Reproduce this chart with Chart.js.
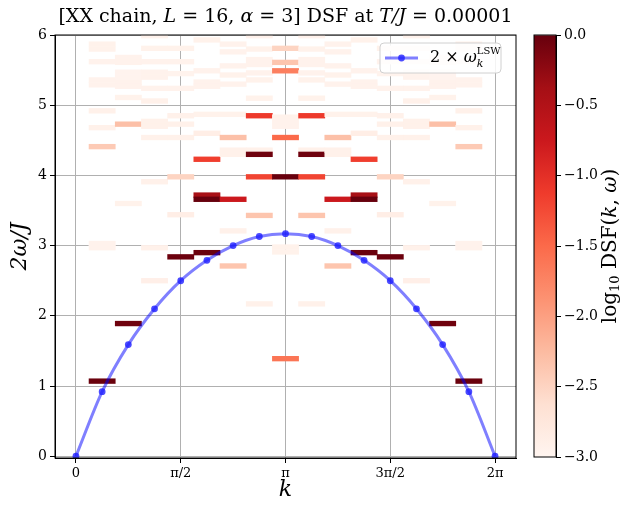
<!DOCTYPE html>
<html>
<head>
<meta charset="utf-8">
<script src="https://cdn.jsdelivr.net/npm/chart.js@4.4.0/dist/chart.umd.min.js"></script>
<style>
  html, body { margin: 0; padding: 0; background: #fff; }
  #wrap { position: relative; width: 629px; height: 514px; }
  #dsf { position: absolute; left: 0; top: 0; }
  #cbar { position: absolute; left: 520px; top: 0; }
</style>
</head>
<body>
<div id="wrap">
  <canvas id="dsf" width="520" height="514"></canvas>
  <canvas id="cbar" width="109" height="514"></canvas>
</div>
<script>
(function() {
    'use strict';

    var L = 16;
    var kIndex = [0, 1, 2, 3, 4, 5, 6, 7, 8, 9, 10, 11, 12, 13, 14, 15, 16];
    var lswOmega = [0, 0.92, 1.59, 2.10, 2.50, 2.79, 3.00, 3.13, 3.17, 3.13, 3.00, 2.79, 2.50, 2.10, 1.59, 0.92, 0];

    var xTickVals = [0, Math.PI / 2, Math.PI, 3 * Math.PI / 2, 2 * Math.PI];
    var xTickLabels = ['0', 'π/2', 'π', '3π/2', '2π'];
    var yTickVals = [0, 1, 2, 3, 4, 5, 6];
    var cbarTicks = [-3, -2.5, -2, -1.5, -1, -0.5, 0];

    // DSF cells, one row per k column n = 1..15: 2w/J bin centres and log10 DSF
    var cellOmega = [
        [5.87, 5.80, 5.62, 5.36, 5.29, 4.92, 4.68, 4.41, 3.03, 2.97, 1.07],
        [5.68, 5.61, 5.47, 5.40, 5.33, 5.27, 5.11, 4.73, 3.60, 1.89],
        [5.99, 5.81, 5.62, 5.47, 5.40, 5.24, 5.06, 4.77, 4.70, 4.54, 3.91, 2.97, 2.50],
        [5.81, 5.62, 5.45, 5.24, 4.85, 4.73, 4.54, 3.98, 3.44, 2.84],
        [5.93, 5.49, 5.33, 5.27, 4.87, 4.60, 4.23, 3.72, 3.66, 2.90],
        [5.87, 5.76, 5.56, 5.43, 5.30, 4.87, 4.54, 4.36, 4.30, 3.66, 3.21, 2.71],
        [5.99, 5.80, 5.65, 5.58, 5.46, 5.36, 5.10, 4.85, 4.36, 4.30, 3.98, 3.43, 2.17],
        [5.81, 5.61, 5.49, 4.83, 4.77, 4.70, 4.54, 3.98, 2.98, 2.91, 1.39],
        [5.99, 5.80, 5.65, 5.58, 5.46, 5.36, 5.10, 4.85, 4.36, 4.30, 3.98, 3.43, 2.17],
        [5.87, 5.76, 5.56, 5.43, 5.30, 4.87, 4.54, 4.36, 4.30, 3.66, 3.21, 2.71],
        [5.93, 5.49, 5.33, 5.27, 4.87, 4.60, 4.23, 3.72, 3.66, 2.90],
        [5.81, 5.62, 5.45, 5.24, 4.85, 4.73, 4.54, 3.98, 3.44, 2.84],
        [5.99, 5.81, 5.62, 5.47, 5.40, 5.24, 5.06, 4.77, 4.70, 4.54, 3.91, 2.97, 2.50],
        [5.68, 5.61, 5.47, 5.40, 5.33, 5.27, 5.11, 4.73, 3.60, 1.89],
        [5.87, 5.80, 5.62, 5.36, 5.29, 4.92, 4.68, 4.41, 3.03, 2.97, 1.07]
    ];
    var cellLog = [
        [-2.94, -2.94, -2.95, -2.95, -2.95, -2.92, -2.92, -2.4, -2.95, -2.95, -0.02],
        [-2.95, -2.95, -2.97, -2.97, -2.95, -2.95, -2.94, -2.3, -2.94, -0.05],
        [-2.96, -2.94, -2.95, -2.95, -2.95, -2.95, -2.92, -2.93, -2.93, -2.92, -2.92, -2.92, -2.9],
        [-2.94, -2.95, -2.96, -2.95, -2.92, -2.93, -2.92, -2.5, -2.88, -0.03],
        [-2.94, -2.95, -2.95, -2.95, -2.94, -2.88, -1.15, -0.4, 0.0, -0.02],
        [-2.95, -2.95, -2.95, -2.94, -2.95, -2.94, -2.3, -2.92, -2.92, -0.75, -2.92, -2.35],
        [-2.95, -2.94, -2.95, -2.95, -2.95, -2.94, -2.94, -1.1, -2.92, -0.05, -1.2, -2.35, -2.92],
        [-2.5, -2.35, -1.7, -2.94, -2.95, -2.95, -1.5, 0.0, -2.94, -2.94, -1.6],
        [-2.95, -2.94, -2.95, -2.95, -2.95, -2.94, -2.94, -1.1, -2.92, -0.05, -1.2, -2.35, -2.92],
        [-2.95, -2.95, -2.95, -2.94, -2.95, -2.94, -2.3, -2.92, -2.92, -0.75, -2.92, -2.35],
        [-2.94, -2.95, -2.95, -2.95, -2.94, -2.88, -1.15, -0.4, 0.0, -0.02],
        [-2.94, -2.95, -2.96, -2.95, -2.92, -2.93, -2.92, -2.5, -2.88, -0.03],
        [-2.96, -2.94, -2.95, -2.95, -2.95, -2.95, -2.92, -2.93, -2.93, -2.92, -2.92, -2.92, -2.9],
        [-2.95, -2.95, -2.97, -2.97, -2.95, -2.95, -2.94, -2.3, -2.94, -0.05],
        [-2.94, -2.94, -2.95, -2.95, -2.95, -2.92, -2.92, -2.4, -2.95, -2.95, -0.02]
    ];

    var cbarMin = -3, cbarMax = 0;
    // matplotlib "Reds"
    var REDS = [[255,245,240],[254,224,210],[252,187,161],[252,146,114],[251,106,74],
                [239,59,44],[203,24,29],[165,15,21],[103,0,13]];

    var SERIF = '"DejaVu Serif", "Liberation Serif", serif';

    function redsColor(v) {
        var t = (v - cbarMin) / (cbarMax - cbarMin);
        t = Math.max(0, Math.min(1, t));
        var pos = t * (REDS.length - 1);
        var i = Math.min(Math.floor(pos), REDS.length - 2);
        var f = pos - i;
        var c = [0, 1, 2].map(function(j) {
            return Math.round(REDS[i][j] + (REDS[i + 1][j] - REDS[i][j]) * f);
        });
        return 'rgb(' + c.join(',') + ')';
    }

    var dk = 2 * Math.PI / L;
    var cells = [], cellColors = [];
    cellOmega.forEach(function(col, c) {
        var k = (c + 1) * dk;
        col.forEach(function(w, j) {
            cells.push({x: [k - dk / 2, k + dk / 2], y: w});
            cellColors.push(redsColor(cellLog[c][j]));
        });
    });
    var lswPoints = kIndex.map(function(n, i) {
        return {x: n * dk, y: lswOmega[i]};
    });

    // draw a run of [text, italic, size, dy] pieces
    function drawPieces(ctx, pieces, x, y) {
        pieces.forEach(function(p) {
            ctx.font = (p[1] ? 'italic ' : '') + p[2] + 'px ' + SERIF;
            ctx.fillText(p[0], x, y + (p[3] || 0));
            x += ctx.measureText(p[0]).width;
        });
        return x;
    }
    function piecesWidth(ctx, pieces) {
        var w = 0;
        pieces.forEach(function(p) {
            ctx.font = (p[1] ? 'italic ' : '') + p[2] + 'px ' + SERIF;
            w += ctx.measureText(p[0]).width;
        });
        return w;
    }

    var decorPlugin = {
        id: 'decor',
        afterDraw: function(chart) {
            var ctx = chart.ctx, a = chart.chartArea;
            ctx.save();
            ctx.strokeStyle = '#000';
            ctx.lineWidth = 1;
            ctx.strokeRect(a.left, a.top, a.right - a.left, a.bottom - a.top);

            // title
            var title = [['[XX chain, ', false, 19], ['L', true, 19], [' = 16, ', false, 19],
                         ['α', true, 19], [' = 3] DSF at ', false, 19], ['T/J', true, 19],
                         [' = 0.00001', false, 19]];
            ctx.fillStyle = '#000';
            ctx.textBaseline = 'middle';
            var tw = piecesWidth(ctx, title);
            drawPieces(ctx, title, (a.left + a.right) / 2 - tw / 2, 17);

            // legend
            var bx = a.right - 136, by = a.top + 8, bw = 121, bh = 30;
            ctx.fillStyle = 'rgba(255,255,255,0.85)';
            ctx.strokeStyle = '#d0d0d0';
            ctx.beginPath();
            ctx.roundRect(bx, by, bw, bh, 4);
            ctx.fill();
            ctx.stroke();
            var ly = by + bh / 2;
            ctx.strokeStyle = 'rgba(0,0,255,0.5)';
            ctx.lineWidth = 3;
            ctx.beginPath();
            ctx.moveTo(bx + 5, ly);
            ctx.lineTo(bx + 38, ly);
            ctx.stroke();
            ctx.fillStyle = 'rgba(30,30,255,0.8)';
            ctx.beginPath();
            ctx.arc(bx + 21.5, ly, 3.4, 0, 2 * Math.PI);
            ctx.fill();
            ctx.fillStyle = '#000';
            var tx = drawPieces(ctx, [['2 × ', false, 16], ['ω', true, 16]], bx + 50, ly);
            drawPieces(ctx, [['k', true, 11]], tx, ly + 6);
            drawPieces(ctx, [['LSW', false, 10]], tx, ly - 7);
            ctx.restore();
        }
    };

    new Chart(document.getElementById('dsf'), {
        type: 'bar',
        data: {
            datasets: [
                {
                    type: 'line',
                    label: '2 × ω_k^LSW',
                    data: lswPoints,
                    borderColor: 'rgba(0,0,255,0.5)',
                    borderWidth: 3,
                    pointRadius: 3.4,
                    pointBackgroundColor: 'rgba(30,30,255,0.8)',
                    pointBorderWidth: 0,
                    tension: 0.4,
                    cubicInterpolationMode: 'monotone',
                    order: 0
                },
                {
                    type: 'bar',
                    label: 'DSF',
                    data: cells,
                    indexAxis: 'y',
                    backgroundColor: cellColors,
                    barThickness: 4.7,
                    grouped: false,
                    borderWidth: 0,
                    order: 1
                }
            ]
        },
        options: {
            responsive: false,
            animation: false,
            layout: {padding: {top: 35, right: 2, left: 0, bottom: 0}},
            plugins: {legend: {display: false}, tooltip: {enabled: false}},
            scales: {
                x: {
                    type: 'linear',
                    min: -0.1 * Math.PI,
                    max: 2.1 * Math.PI,
                    offset: false,
                    afterBuildTicks: function(scale) {
                        scale.ticks = xTickVals.map(function(v) { return {value: v}; });
                    },
                    afterFit: function(scale) { scale.height = 56; },
                    ticks: {
                        autoSkip: false, maxRotation: 0, padding: 3, color: '#000',
                        font: {family: SERIF, size: 13},
                        callback: function(v, i) { return xTickLabels[i]; }
                    },
                    grid: {color: '#b0b0b0', lineWidth: 1, tickColor: '#000', tickLength: 5, offset: false},
                    border: {color: '#000'},
                    title: {display: true, text: 'k', color: '#000',
                            font: {family: SERIF, size: 22, style: 'italic'}, padding: {top: 0, bottom: 11}}
                },
                y: {
                    type: 'linear',
                    min: -0.025,
                    max: 6,
                    offset: false,
                    afterBuildTicks: function(scale) {
                        scale.ticks = yTickVals.map(function(v) { return {value: v}; });
                    },
                    afterFit: function(scale) { scale.width = 55; },
                    ticks: {padding: 3, color: '#000', font: {family: SERIF, size: 14}},
                    grid: {color: '#b0b0b0', lineWidth: 1, tickColor: '#000', tickLength: 5, offset: false},
                    border: {color: '#000'},
                    title: {display: true, text: '2ω/J', color: '#000',
                            font: {family: SERIF, size: 22, style: 'italic'}, padding: {top: 7, bottom: 0}}
                }
            }
        },
        plugins: [decorPlugin]
    });

    var cbarPlugin = {
        id: 'cbarDecor',
        afterDraw: function(chart) {
            var ctx = chart.ctx, a = chart.chartArea;
            ctx.save();
            ctx.strokeStyle = '#000';
            ctx.lineWidth = 1;
            ctx.strokeRect(a.left, a.top, a.right - a.left, a.bottom - a.top);
            var label = [['log', false, 20], ['10', false, 13, 5], [' DSF(', false, 20],
                         ['k', true, 20], [', ', false, 20], ['ω', true, 20], [')', false, 20]];
            ctx.translate(91, (a.top + a.bottom) / 2);
            ctx.rotate(-Math.PI / 2);
            ctx.fillStyle = '#000';
            ctx.textBaseline = 'middle';
            var w = piecesWidth(ctx, label);
            drawPieces(ctx, label, -w / 2, 0);
            ctx.restore();
        }
    };

    new Chart(document.getElementById('cbar'), {
        type: 'bar',
        data: {
            labels: [''],
            datasets: [{
                data: [[cbarMin, cbarMax]],
                barPercentage: 1,
                categoryPercentage: 1,
                borderWidth: 0,
                backgroundColor: function(context) {
                    var area = context.chart.chartArea;
                    if (!area) return null;
                    var g = context.chart.ctx.createLinearGradient(0, area.bottom, 0, area.top);
                    REDS.forEach(function(c, i) {
                        g.addColorStop(i / (REDS.length - 1), 'rgb(' + c.join(',') + ')');
                    });
                    return g;
                }
            }]
        },
        options: {
            responsive: false,
            animation: false,
            layout: {padding: {top: 35, bottom: 57, left: 14, right: 0}},
            plugins: {legend: {display: false}, tooltip: {enabled: false}},
            scales: {
                x: {display: false},
                y: {
                    position: 'right',
                    min: cbarMin,
                    max: cbarMax,
                    afterBuildTicks: function(scale) {
                        scale.ticks = cbarTicks.map(function(v) { return {value: v}; });
                    },
                    afterFit: function(scale) { scale.width = 73; },
                    ticks: {
                        padding: 3, color: '#000', font: {family: SERIF, size: 14},
                        callback: function(v) { return v.toFixed(1).replace('-', '−'); }
                    },
                    grid: {drawOnChartArea: false, tickColor: '#000', tickLength: 5},
                    border: {color: '#000'}
                }
            }
        },
        plugins: [cbarPlugin]
    });
})();
</script>
</body>
</html>
